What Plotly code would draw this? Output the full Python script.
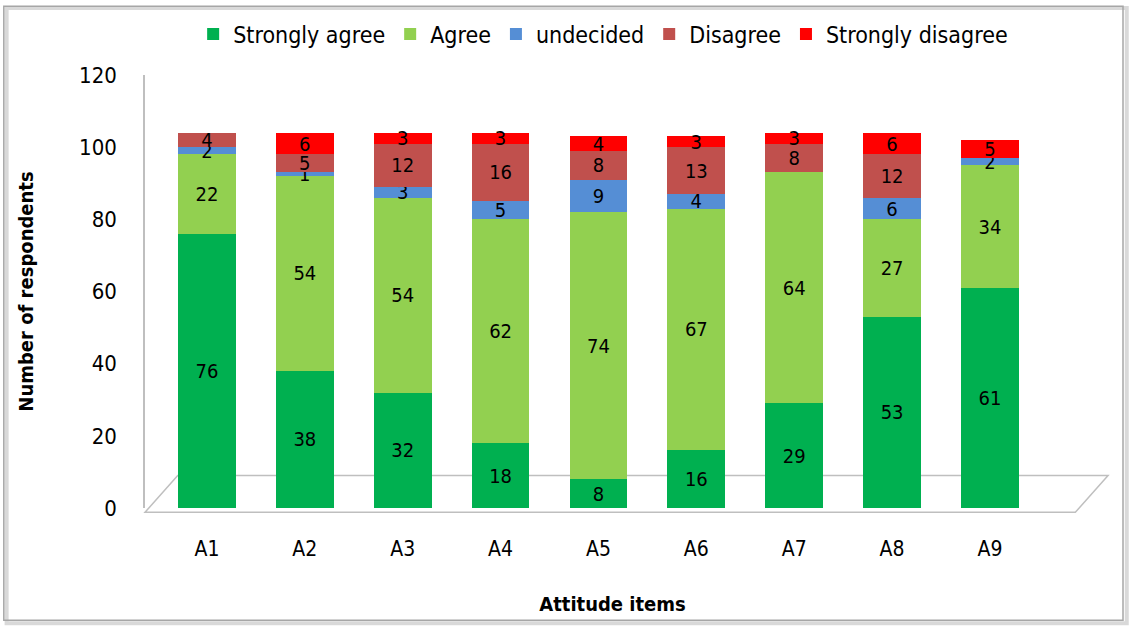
import plotly.graph_objects as go

items = ["A1", "A2", "A3", "A4", "A5", "A6", "A7", "A8", "A9"]
strongly_agree = [76, 38, 32, 18, 8, 16, 29, 53, 61]
agree = [22, 54, 54, 62, 74, 67, 64, 27, 34]
undecided = [2, 1, 3, 5, 9, 4, 0, 6, 2]
disagree = [4, 5, 12, 16, 8, 13, 8, 12, 0]
strongly_disagree = [0, 6, 3, 3, 4, 3, 3, 6, 5]

series = [
    ("Strongly agree", strongly_agree, "#00B050"),
    ("Agree", agree, "#92D050"),
    ("undecided", undecided, "#558ED5"),
    ("Disagree", disagree, "#C0504D"),
    ("Strongly disagree", strongly_disagree, "#FF0000"),
]

FONT = "Liberation Sans Narrow, DejaVu Sans Condensed, Arial"

fig = go.Figure()
for name, vals, color in series:
    labels = [str(v) if v > 0 else "" for v in vals]
    fig.add_trace(go.Bar(
        name=name, x=items, y=vals, marker_color=color,
        marker_line_width=0,
        text=labels, textposition="inside", insidetextanchor="middle",
        textangle=0,
        textfont=dict(color="black", size=20, family=FONT),
        constraintext="none",
    ))

fig.update_layout(
    barmode="stack",
    bargap=0.41,
    width=1129, height=630,
    margin=dict(l=145, r=49, t=72, b=122),
    paper_bgcolor="white", plot_bgcolor="rgba(0,0,0,0)",
    font=dict(family=FONT, size=20, color="black"),
    legend=dict(orientation="h", x=0.49, xanchor="center", y=1.045, yanchor="bottom",
                font=dict(size=23, family=FONT), traceorder="normal",
                itemwidth=30),
    xaxis=dict(range=[-0.633, 8.92], showgrid=False, showline=False, ticks="outside", ticklen=22,
               tickcolor="rgba(0,0,0,0)", tickfont=dict(size=21, family=FONT),
               title=dict(text="<b>Attitude items</b>", font=dict(size=20, family=FONT),
                          standoff=36)),
    yaxis=dict(range=[0, 120], dtick=20, showgrid=False, showline=True,
               linecolor="#BFBFBF", linewidth=1.5, ticks="", zeroline=False,
               ticklabelstandoff=22,
               tickfont=dict(size=22, family=FONT),
               title=dict(text="<b>Number of respondents</b>", font=dict(size=20, family=FONT),
                          standoff=40)),
    shapes=[
        dict(type="rect", xref="paper", yref="paper",
             x0=-0.148, x1=1.05, y0=-0.266, y1=1.155,
             line=dict(color="#D9D9D9", width=4), fillcolor="rgba(0,0,0,0)", layer="below"),
        dict(type="rect", xref="paper", yref="paper",
             x0=-0.151, x1=1.046, y0=-0.259, y1=1.159,
             line=dict(color="#A6A6A6", width=1.5), fillcolor="rgba(0,0,0,0)", layer="below"),
        dict(type="path", xref="paper", yref="paper",
             path="M 0,-0.01 L 0.995,-0.01 L 1.03,0.075 L 0.035,0.075 Z",
             line=dict(color="#BFBFBF", width=1.5), fillcolor="rgba(0,0,0,0)", layer="below"),
    ],
)

fig.write_html("out.html")
